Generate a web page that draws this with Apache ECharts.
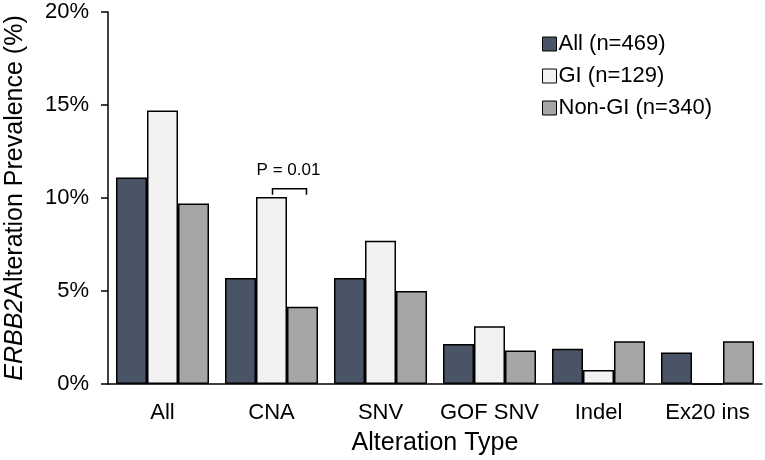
<!DOCTYPE html>
<html>
<head>
<meta charset="utf-8">
<script src="https://cdn.jsdelivr.net/npm/echarts@6/dist/echarts.min.js"></script>
<style>
  html, body { margin: 0; padding: 0; background: #fff; }
  #chart { width: 765px; height: 460px; }
</style>
</head>
<body>
<div id="chart"></div>
<script>
var categories = ['All', 'CNA', 'SNV', 'GOF SNV', 'Indel', 'Ex20 ins'];
var seriesNames = ['All (n=469)', 'GI (n=129)', 'Non-GI (n=340)'];
var allValues = [11.1, 5.7, 5.7, 2.15, 1.9, 1.7];
var giValues = [14.7, 10.05, 7.7, 3.1, 0.75, 0];
var nonGiValues = [9.7, 4.15, 5.0, 1.8, 2.3, 2.3];
var yTicks = { min: 0, max: 20, interval: 5 };
// p-value bracket over CNA: GI vs Non-GI
var pNote = [[1, 10.5, 'P = 0.01']];

var colors = ['#4a5467', '#f2f2f2', '#a6a6a6'];
var font = 'Liberation Sans, Arial, sans-serif';
var barW = 31;

var chartDom = document.getElementById('chart');
var myChart = echarts.init(chartDom);

function barSeries(name, data, color) {
    return {
        name: name,
        type: 'bar',
        data: data,
        barWidth: barW,
        barGap: '0%',
        itemStyle: { color: color, borderColor: '#000', borderWidth: 1.5 },
        emphasis: { disabled: true }
    };
}

var option = {
    animation: false,
    textStyle: { fontFamily: font },
    grid: { left: 108, right: 3, top: 12, bottom: 76, outerBoundsMode: 'none', containLabel: false },
    legend: {
        orient: 'vertical',
        left: 537,
        top: 28,
        itemWidth: 14,
        itemHeight: 14,
        itemGap: 10,
        icon: 'rect',
        data: seriesNames,
        itemStyle: { borderColor: '#000', borderWidth: 1 },
        textStyle: { fontSize: 22, color: '#000', fontFamily: font, padding: [0, 0, 0, -3] }
    },
    xAxis: {
        type: 'category',
        data: categories,
        name: 'Alteration Type',
        nameLocation: 'middle',
        nameGap: 47,
        nameTextStyle: { fontSize: 25, color: '#000' },
        axisLine: { lineStyle: { color: '#000', width: 1.5 } },
        axisTick: { length: 7, lineStyle: { color: '#000', width: 1.5 } },
        axisLabel: { interval: 0, fontSize: 22, color: '#000', margin: 18 }
    },
    yAxis: {
        type: 'value',
        min: yTicks.min,
        max: yTicks.max,
        interval: yTicks.interval,
        name: '{it|ERBB2}Alteration Prevalence (%)',
        nameLocation: 'middle',
        nameGap: 80,
        nameTextStyle: {
            fontSize: 25,
            color: '#000',
            rich: { it: { fontSize: 25, fontStyle: 'italic', color: '#000', fontFamily: font } }
        },
        axisLine: { show: true, lineStyle: { color: '#000', width: 1.5 } },
        axisTick: { show: true, length: 7, lineStyle: { color: '#000', width: 1.5 } },
        splitLine: { show: false },
        axisLabel: { fontSize: 22, color: '#000', margin: 19, formatter: '{value}%' }
    },
    series: [
        barSeries(seriesNames[0], allValues, colors[0]),
        barSeries(seriesNames[1], giValues, colors[1]),
        barSeries(seriesNames[2], nonGiValues, colors[2]),
        {
            type: 'custom',
            name: 'pvalue',
            data: pNote,
            silent: true,
            z: 5,
            renderItem: function (params, api) {
                var p = api.coord([api.value(0), api.value(1)]);
                var x0 = p[0] + 1, x1 = p[0] + barW + 4;
                var y = p[1];
                return {
                    type: 'group',
                    children: [
                        {
                            type: 'polyline',
                            shape: { points: [[x0, y + 6], [x0, y], [x1, y], [x1, y + 6]] },
                            style: { stroke: '#000', lineWidth: 1.5, fill: null }
                        },
                        {
                            type: 'text',
                            style: {
                                text: pNote[params.dataIndex][2],
                                x: (x0 + x1) / 2 - 1,
                                y: y - 10,
                                align: 'center',
                                verticalAlign: 'bottom',
                                fontSize: 17,
                                fontFamily: font,
                                fill: '#000'
                            }
                        }
                    ]
                };
            }
        }
    ]
};

myChart.setOption(option);
</script>
</body>
</html>
